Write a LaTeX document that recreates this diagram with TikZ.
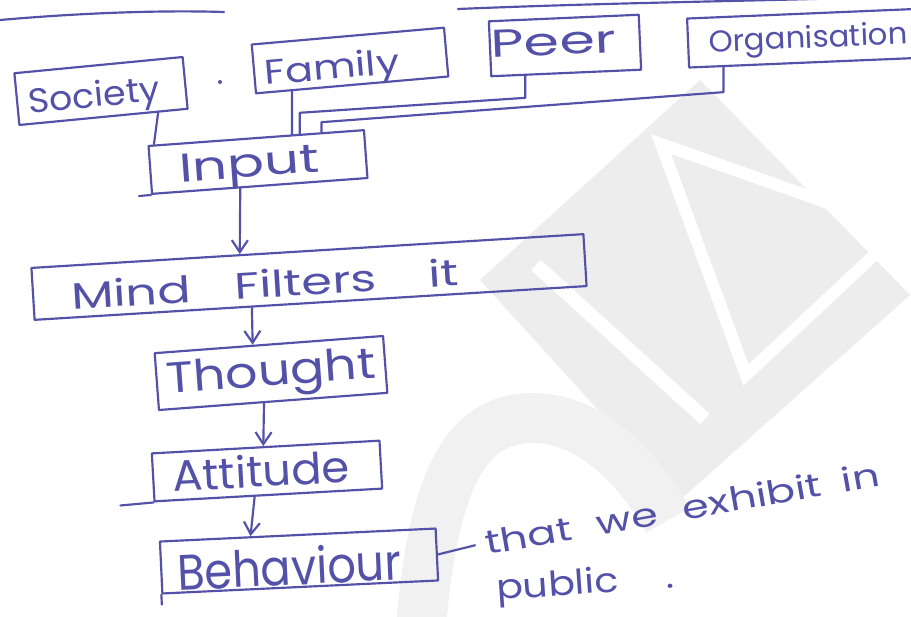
\documentclass[tikz,border=0pt]{standalone}
\usepackage{fontspec}
\setmainfont{Poppins}
\usepackage{graphicx}
\usetikzlibrary{arrows.meta,calc}
\definecolor{ink}{RGB}{84,82,168}
\definecolor{wm}{RGB}{237,237,237}
\definecolor{wmlight}{RGB}{241,241,241}
\newlength\pxu
\setlength\pxu{0.3mm}
% handwritten-looking label: width, height (in px units), text
\newcommand\hw[3]{\resizebox{#1\pxu}{#2\pxu}{#3}}

\begin{document}
\begin{tikzpicture}[x=0.3mm,y=-0.3mm,
  inkline/.style={draw=ink, line width=0.65mm, line cap=round, line join=round},
  arr/.style={inkline, -{Straight Barb[length=3.6mm,width=4.8mm,line width=0.65mm]}},
  % box: width, height, rotation, text height (sets baseline offset)
  bx/.style n args={4}{inkline, rectangle, inner sep=0pt, text=ink,
    minimum width=#1, minimum height=#2, rotate=#3,
    text height=#4, text depth=0pt},
  txt/.style={text=ink, inner sep=0pt}]

\useasboundingbox (0,0) rectangle (911,616);
\clip (0,0) rectangle (911,616);
\fill[white] (0,0) rectangle (911,616);

% faint logo in the paper background
\fill[wm] (480,280) -- (700,80) -- (910,295) -- (680,500) -- cycle;
\draw[white, line width=3.6mm, line join=miter] (661,144) -- (902,229) -- (746,375) -- cycle;
\draw[white, line width=4.2mm] (536,265) -- (705,419);
\draw[wmlight, line width=15mm] (420,640) .. controls (432,470) and (470,420) .. (530,418)
  .. controls (590,416) and (640,470) .. (668,520);

% underlines of the heading above
\draw[inkline] (0,20) .. controls (80,13) and (160,10) .. (224,12);
\draw[inkline] (458,9) .. controls (600,3) and (750,1) .. (850,-2);

% sources of input
\node[bx={50.7mm}{15.6mm}{5.5}{9.2mm}] (society) at (101,91)
  {\hw{132}{26}{Society}\hspace*{15\pxu}};
\fill[ink] (220,82) circle (2);
\node[bx={57.9mm}{14.7mm}{5}{10.2mm}] (family) at (350,60.5)
  {\hw{135}{26}{Family}\hspace*{37\pxu}};
\node[bx={45mm}{16.5mm}{2.5}{5.4mm}] (peer) at (565,45.5)
  {\hw{125}{27}{Peer}\hspace*{22\pxu}};
\node[bx={72mm}{14.7mm}{2.4}{6mm}] (org) at (808,38)
  {\hw{199}{23}{Organisation}};

% chain
\node[bx={64.8mm}{14.4mm}{4.2}{8.6mm}] (input) at (258,162)
  {\hw{140}{28}{Input}\hspace*{18\pxu}};
\node[bx={165.9mm}{15.6mm}{3.5}{10.7mm}] (mind) at (309,277)
  {\hw{388}{28}{Mind\hspace{0.9em}Filters\hspace{1.07em}it}\hspace*{88\pxu}};
\node[bx={68.7mm}{17.1mm}{4.3}{7.8mm}] (thought) at (271,373)
  {\hw{210}{32}{Thought}};
\node[bx={68.4mm}{14.4mm}{3.2}{9.4mm}] (attitude) at (267,471)
  {\hw{177}{33}{Attitude}\hspace*{12\pxu}};
\node[bx={82.8mm}{15.6mm}{2.7}{14.2mm}] (behaviour) at (299,561)
  {\hw{224}{38}{Behaviour}\hspace*{20\pxu}};

% side note
\node[txt, rotate=10, anchor=base west] (note) at (487,555)
  {\hw{400}{25}{that\hspace{0.6em}we\hspace{0.6em}exhibit\hspace{0.5em}in}};
\node[txt, rotate=4, anchor=base west] (pub) at (497,600)
  {\hw{178}{26}{public\hspace{1.2em}.}};

% stray pen overshoots at box corners
\draw[inkline] (input.south west) -- ++(-12,1);
\draw[inkline] (attitude.south west) -- ++(-33,3);
\draw[inkline] (behaviour.south west) -- ++(0.5,10);

% inputs joining the Input box
\coordinate (pj) at ($(input.north west)!0.70!(input.north east)$);
\coordinate (oj) at ($(input.north west)!0.80!(input.north east)$);
\draw[inkline] ($(society.south west)!0.82!(society.south east)$)
  -- ($(input.north west)!0.03!(input.north east)$);
\draw[inkline] ($(family.south west)!0.19!(family.south east)$)
  -- ($(input.north west)!0.665!(input.north east)$);
\draw[inkline] ($(peer.south west)!0.23!(peer.south east)$) -- ++(0,22)
  -- ($(pj)+(0,-21)$) -- (pj);
\draw[inkline] ($(org.south west)!0.146!(org.south east)$) -- ++(0,25)
  -- ($(oj)+(0,-10)$) -- (oj);

% downward flow
\draw[arr] ($(input.south west)!0.41!(input.south east)$)
  -- ($(mind.north west)!0.378!(mind.north east)$);
\draw[arr] ($(mind.south west)!0.394!(mind.south east)$)
  -- ($(thought.north west)!0.43!(thought.north east)$);
\draw[arr] ($(thought.south west)!0.46!(thought.south east)$)
  -- ($(attitude.north west)!0.49!(attitude.north east)$);
\draw[arr] ($(attitude.south west)!0.44!(attitude.south east)$)
  -- ($(behaviour.north west)!0.33!(behaviour.north east)$);

% link to the note
\draw[inkline, shorten >=3mm] (behaviour.east) -- (note.west);
\end{tikzpicture}
\end{document}
